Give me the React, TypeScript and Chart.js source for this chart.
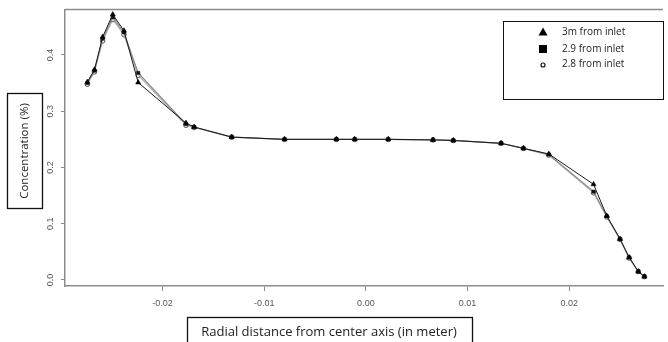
import React, { useEffect, useRef } from "react";
import { Chart, registerables } from "chart.js";

Chart.register(...registerables);

const radialX = [-0.0274, -0.0267, -0.0259, -0.0249, -0.0238, -0.0224, -0.0177, -0.0169, -0.0132, -0.0080, -0.0029, -0.0011, 0.0022, 0.0066, 0.0086, 0.0133, 0.0155, 0.0180, 0.0224, 0.0237, 0.0250, 0.0259, 0.0268, 0.0274];
const conc3m = [0.352, 0.374, 0.432, 0.472, 0.443, 0.351, 0.279, 0.272, 0.254, 0.250, 0.250, 0.250, 0.250, 0.249, 0.248, 0.243, 0.234, 0.224, 0.170, 0.114, 0.073, 0.040, 0.015, 0.006];
const conc29 = [0.350, 0.372, 0.429, 0.467, 0.440, 0.368, 0.277, 0.272, 0.254, 0.250, 0.250, 0.250, 0.250, 0.249, 0.248, 0.243, 0.234, 0.223, 0.157, 0.113, 0.073, 0.040, 0.015, 0.006];
const conc28 = [0.348, 0.370, 0.425, 0.463, 0.436, 0.364, 0.275, 0.271, 0.254, 0.250, 0.250, 0.250, 0.250, 0.249, 0.248, 0.243, 0.234, 0.222, 0.155, 0.112, 0.072, 0.039, 0.015, 0.006];

const seriesNames = ["3m from inlet", "2.9 from inlet", "2.8 from inlet"];
const xTicks = [-0.02, -0.01, 0, 0.01, 0.02];
const xTickLabels = ["-0.02", "-0.01", "0.00", "0.01", "0.02"];
const yTicks = [0, 0.1, 0.2, 0.3, 0.4];
const yTickLabels = ["0.0", "0.1", "0.2", "0.3", "0.4"];
const xTitle = "Radial distance from center axis (in meter)";
const yTitle = "Concentration (%)";

const W = 668;
const H = 342;

const decorPlugin = {
  id: "decor",
  afterDraw(chart: any) {
    const ctx = chart.ctx;
    const ca = chart.chartArea;
    ctx.save();
    // top frame line
    ctx.strokeStyle = "#8c8c8c";
    ctx.lineWidth = 1.5;
    ctx.beginPath();
    ctx.moveTo(ca.left, ca.top);
    ctx.lineTo(ca.right, ca.top);
    ctx.stroke();

    // y title box
    ctx.strokeStyle = "#111";
    ctx.lineWidth = 1.3;
    ctx.strokeRect(7.5, 93.5, 35, 115);
    ctx.fillStyle = "#222";
    ctx.font = "11.5px 'Open Sans'";
    ctx.textAlign = "center";
    ctx.textBaseline = "middle";
    ctx.save();
    ctx.translate(25, 151);
    ctx.rotate(-Math.PI / 2);
    ctx.fillText(yTitle, 0, 0);
    ctx.restore();

    // x title box
    ctx.strokeRect(187.5, 317.5, 285, 30);
    ctx.font = "12px 'Open Sans'";
    const mw = ctx.measureText(xTitle).width;
    const fs = 12 * 256 / mw;
    ctx.font = fs.toFixed(2) + "px 'Open Sans'";
    ctx.fillText(xTitle, 329, 332);

    // legend
    ctx.lineWidth = 1;
    ctx.strokeStyle = "#111";
    ctx.strokeRect(503.5, 21.5, 160, 78);
    ctx.fillStyle = "#000";
    // triangle
    ctx.beginPath();
    ctx.moveTo(543, 27.5);
    ctx.lineTo(547.5, 35.5);
    ctx.lineTo(538.5, 35.5);
    ctx.closePath();
    ctx.fill();
    // square
    ctx.fillRect(539, 45, 8, 8);
    // circle
    ctx.beginPath();
    ctx.arc(543, 65, 2, 0, Math.PI * 2);
    ctx.lineWidth = 1.2;
    ctx.stroke();
    ctx.font = "10px 'Open Sans'";
    ctx.textAlign = "left";
    ctx.fillStyle = "#222";
    ctx.fillText(seriesNames[0], 562, 32);
    ctx.fillText(seriesNames[1], 562, 49);
    ctx.fillText(seriesNames[2], 562, 64);
    ctx.restore();
  },
};

export default function App() {
  const ref = useRef<HTMLCanvasElement>(null);
  useEffect(() => {
    if (!ref.current) return;
    const mk = (ys: number[]) => radialX.map((x, i) => ({ x, y: ys[i] }));
    const chart = new Chart(ref.current, {
      type: "scatter",
      data: {
        datasets: [
          {
            label: seriesNames[0],
            data: mk(conc3m),
            showLine: true,
            borderColor: "#1a1a1a",
            borderWidth: 1,
            backgroundColor: "#000",
            pointStyle: "triangle",
            pointRadius: 3,
            pointBorderColor: "#000",
            pointBorderWidth: 0.5,
          },
          {
            label: seriesNames[1],
            data: mk(conc29),
            showLine: true,
            borderColor: "#8a8a8a",
            borderWidth: 1.2,
            backgroundColor: "#111",
            pointStyle: "rect",
            pointRadius: 2.3,
            pointBorderColor: "#111",
            pointBorderWidth: 0.5,
          },
          {
            label: seriesNames[2],
            data: mk(conc28),
            showLine: true,
            borderColor: "#b0b0b0",
            borderWidth: 1.2,
            backgroundColor: "rgba(255,255,255,0.6)",
            pointStyle: "circle",
            pointRadius: 2.3,
            pointBorderColor: "#555",
            pointBorderWidth: 1,
          },
        ],
      },
      options: {
        responsive: false,
        animation: false,
        devicePixelRatio: 1,
        layout: { padding: { left: 0, right: 0, top: 9, bottom: 0 } },
        plugins: { legend: { display: false }, tooltip: { enabled: false } },
        scales: {
          x: {
            type: "linear",
            min: -0.0296,
            max: 0.02923,
            afterBuildTicks: (s: any) => {
              s.ticks = xTicks.map((v) => ({ value: v }));
            },
            afterFit: (s: any) => {
              s.height = H - 286;
            },
            grid: { display: true, drawOnChartArea: false, drawTicks: true, tickLength: 5, color: "#8c8c8c", lineWidth: 1 },
            border: { display: true, color: "#8c8c8c", width: 1.5 },
            ticks: {
              padding: 7,
              color: "#555",
              font: { family: "'Liberation Sans Narrow', 'Liberation Sans', Arial", size: 9 },
              maxRotation: 0,
              minRotation: 0,
              callback: (v: any) => {
                const i = xTicks.findIndex((t) => Math.abs(t - v) < 1e-9);
                return i >= 0 ? xTickLabels[i] : "";
              },
            },
          },
          y: {
            type: "linear",
            min: -0.0107,
            max: 0.481,
            afterBuildTicks: (s: any) => {
              s.ticks = yTicks.map((v) => ({ value: v }));
            },
            afterFit: (s: any) => {
              s.width = 65;
            },
            grid: { display: true, drawOnChartArea: false, drawTicks: true, tickLength: 4, color: "#8c8c8c", lineWidth: 1 },
            border: { display: true, color: "#8c8c8c", width: 1.5 },
            ticks: {
              padding: 4,
              color: "#555",
              crossAlign: "center",
              minRotation: 90,
              maxRotation: 90,
              font: { family: "'Liberation Sans Narrow', 'Liberation Sans', Arial", size: 9 },
              callback: (v: any) => {
                const i = yTicks.findIndex((t) => Math.abs(t - v) < 1e-9);
                return i >= 0 ? yTickLabels[i] : "";
              },
            },
          },
        },
      },
      plugins: [decorPlugin],
    } as any);
    return () => chart.destroy();
  }, []);
  return (
    <div style={{ position: "absolute", left: 0, top: 0, width: W, height: H, background: "#fff", overflow: "hidden" }}>
      <canvas ref={ref} width={W} height={H} style={{ width: W, height: H, display: "block" }} />
    </div>
  );
}
